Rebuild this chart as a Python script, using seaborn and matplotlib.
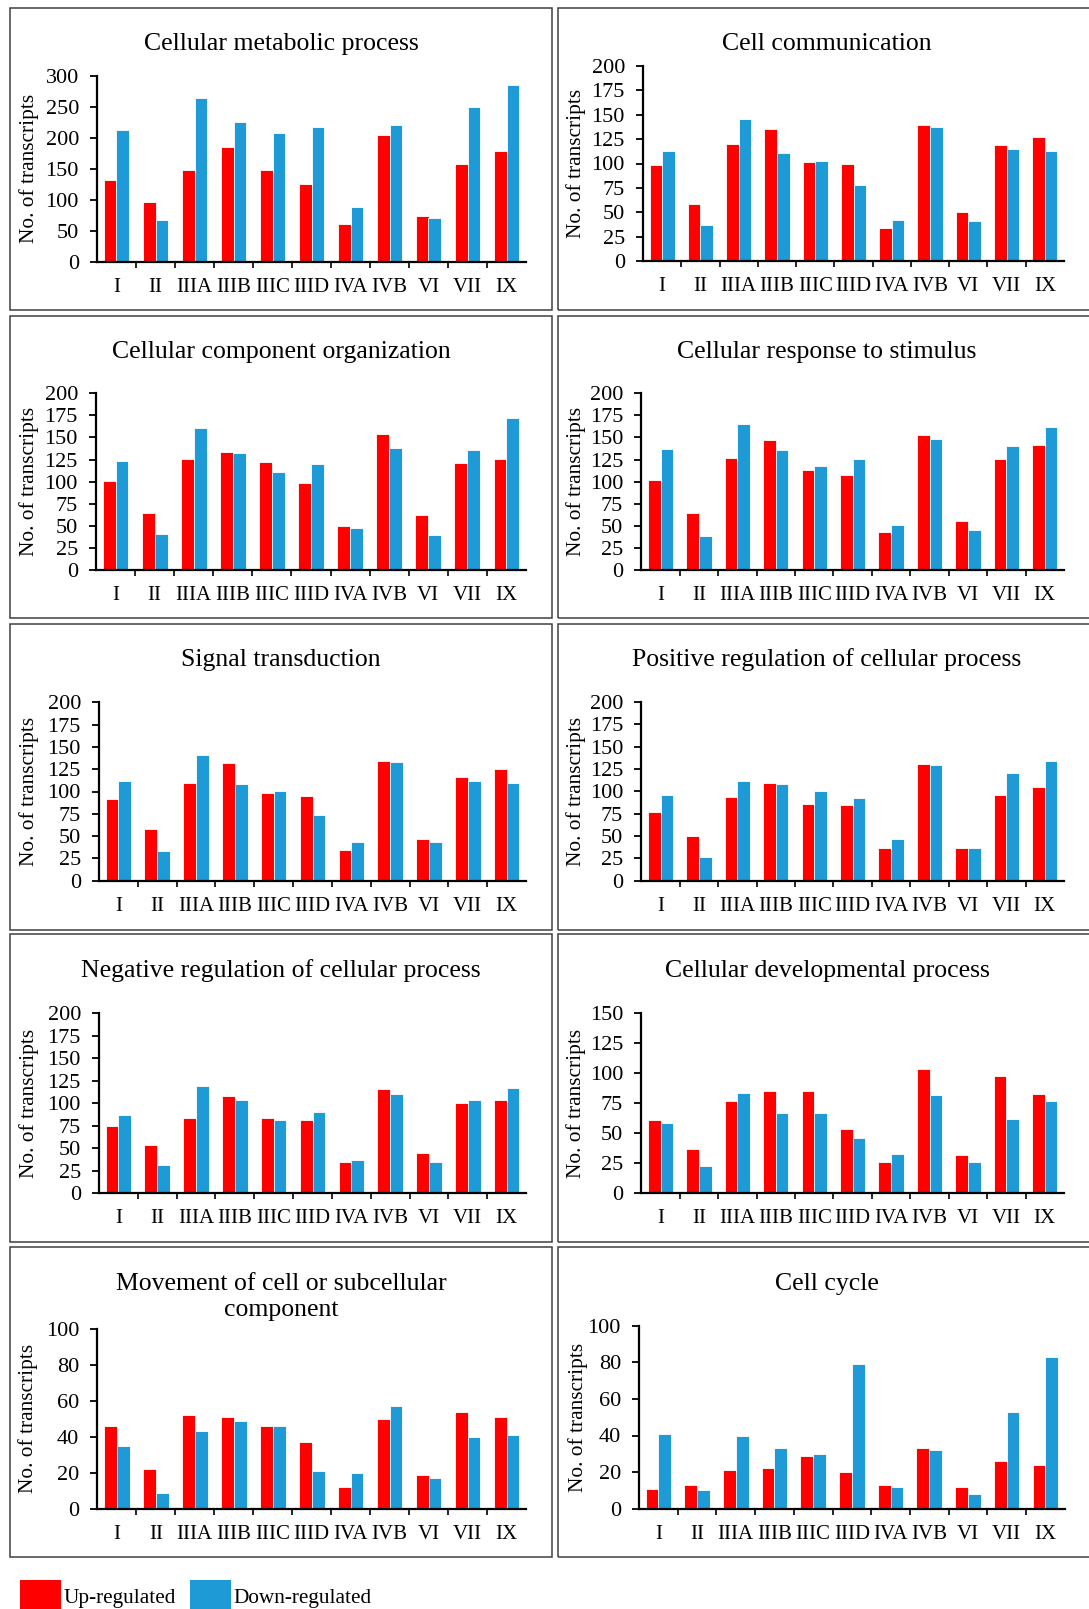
import matplotlib
matplotlib.use("Agg")
import matplotlib.pyplot as plt
from matplotlib.patches import Rectangle, Patch
from matplotlib.ticker import MultipleLocator, FixedLocator
import pandas as pd
import seaborn as sns

# Transcript-count data per gene family
groups = ["I", "II", "IIIA", "IIIB", "IIIC", "IIID", "IVA", "IVB", "VI", "VII", "IX"]

metabolic_up = [132, 96, 148, 185, 148, 126, 61, 205, 74, 158, 179]
metabolic_down = [213, 67, 264, 226, 208, 217, 89, 221, 71, 250, 285]

communication_up = [98, 59, 120, 135, 102, 100, 34, 139, 50, 119, 127]
communication_down = [113, 37, 146, 111, 103, 78, 42, 137, 41, 115, 113]

component_up = [101, 64, 126, 134, 122, 99, 50, 154, 62, 121, 126]
component_down = [123, 41, 161, 132, 111, 120, 48, 138, 40, 136, 172]

stimulus_up = [102, 64, 127, 147, 113, 107, 43, 153, 55, 126, 142]
stimulus_down = [137, 39, 165, 136, 118, 126, 51, 148, 45, 140, 162]

signal_up = [92, 58, 110, 132, 98, 95, 34, 134, 47, 116, 125]
signal_down = [112, 33, 141, 108, 101, 74, 43, 133, 43, 112, 110]

positive_up = [77, 50, 94, 109, 86, 85, 37, 131, 37, 96, 105]
positive_down = [96, 26, 112, 108, 100, 93, 47, 130, 37, 120, 134]

negative_up = [75, 54, 84, 108, 84, 81, 35, 116, 45, 100, 104]
negative_down = [87, 31, 119, 104, 81, 90, 37, 110, 35, 104, 117]

developmental_up = [61, 37, 77, 85, 85, 54, 26, 104, 32, 98, 83]
developmental_down = [59, 23, 84, 67, 67, 46, 33, 82, 26, 62, 77]

movement_up = [46, 22, 52, 51, 46, 37, 12, 50, 19, 54, 51]
movement_down = [35, 9, 43, 49, 46, 21, 20, 57, 17, 40, 41]

cycle_up = [11, 13, 21, 22, 29, 20, 13, 33, 12, 26, 24]
cycle_down = [41, 10, 40, 33, 30, 79, 12, 32, 8, 53, 83]

series_names = ["Up-regulated", "Down-regulated"]
colors = {"Up-regulated": "#FF0000", "Down-regulated": "#1E9AD6"}

sns.set_style("ticks")
plt.rcParams["font.family"] = ["Liberation Serif", "DejaVu Serif"]
plt.rcParams["text.color"] = "black"

W, H = 1089, 1609
fig = plt.figure(figsize=(W / 100, H / 100), dpi=100)


def fx(px):
    return px / W


def fy(py):
    return 1 - py / H


# (title, up, down, ymax, ystep, box(x0,y0,x1,y1), axes(left,top,right,bottom), title_y, ylabel_x)
panels = [
    ("Cellular metabolic process", metabolic_up, metabolic_down, 300, 50,
     (10, 8, 552, 310), (97, 75.7, 526, 261.7), 44, 29),
    ("Cell communication", communication_up, communication_down, 200, 25,
     (558, 8, 1096, 310), (643, 65.7, 1064, 261.3), 44, 576),
    ("Cellular component organization", component_up, component_down, 200, 25,
     (10, 316, 552, 618), (96, 393.3, 526, 570), 352, 29),
    ("Cellular response to stimulus", stimulus_up, stimulus_down, 200, 25,
     (558, 316, 1096, 618), (641.3, 393.3, 1064, 570), 352, 576),
    ("Signal transduction", signal_up, signal_down, 200, 25,
     (10, 624, 552, 930), (99, 702.3, 526, 880.7), 660, 29),
    ("Positive regulation of cellular process", positive_up, positive_down, 200, 25,
     (558, 624, 1096, 930), (641.3, 702, 1064, 880.7), 660, 576),
    ("Negative regulation of cellular process", negative_up, negative_down, 200, 25,
     (10, 934, 552, 1242), (99, 1013.3, 526, 1193.3), 971, 29),
    ("Cellular developmental process", developmental_up, developmental_down, 150, 25,
     (558, 934, 1096, 1242), (641.3, 1013.3, 1064, 1193.3), 971, 576),
    ("Movement of cell or subcellular\ncomponent", movement_up, movement_down, 100, 20,
     (10, 1247, 552, 1557), (97.3, 1329, 526, 1508.7), 1297, 28),
    ("Cell cycle", cycle_up, cycle_down, 100, 20,
     (558, 1247, 1096, 1557), (639, 1325.7, 1064.7, 1508.7), 1284, 578),
]

for title, up, down, ymax, ystep, box, axpx, title_y, ylab_x in panels:
    x0, y0, x1, y1 = box
    fig.add_artist(Rectangle((fx(x0), fy(y1)), (x1 - x0) / W, (y1 - y0) / H,
                             transform=fig.transFigure, fill=False,
                             edgecolor="#404040", linewidth=1.1))
    fig.text(fx((x0 + x1) / 2), fy(title_y), title, ha="center", va="center",
             fontsize=18.5, linespacing=1.25)

    left, top, right, bottom = axpx
    ax = fig.add_axes([fx(left), fy(bottom), (right - left) / W, (bottom - top) / H])

    df = pd.DataFrame({
        "group": groups * 2,
        "count": list(up) + list(down),
        "regulation": [series_names[0]] * len(groups) + [series_names[1]] * len(groups),
    })
    sns.barplot(data=df, x="group", y="count", hue="regulation",
                hue_order=series_names, palette=colors, order=groups,
                width=0.66, saturation=1, edgecolor="white", linewidth=0.6,
                legend=False, ax=ax)

    ax.set_xlim(-0.5, len(groups) - 0.5)
    ax.set_ylim(0, ymax)
    ax.yaxis.set_major_locator(MultipleLocator(ystep))
    ax.set_xlabel("")
    ax.set_ylabel("")
    ax.set_facecolor("none")
    sns.despine(ax=ax)
    for side in ("left", "bottom"):
        ax.spines[side].set_color("black")
        ax.spines[side].set_linewidth(1.6)

    ax.tick_params(axis="y", which="major", direction="out", length=5, width=1.3,
                   color="black", labelsize=16, pad=8, labelcolor="black")
    ax.tick_params(axis="x", which="major", length=0, labelsize=15, pad=11.5,
                   labelcolor="black")
    ax.xaxis.set_minor_locator(FixedLocator([i + 0.5 for i in range(len(groups) - 1)]))
    ax.tick_params(axis="x", which="minor", direction="out", length=4, width=1.2,
                   color="black")

    fig.text(fx(ylab_x), fy((top + bottom) / 2), "No. of transcripts", rotation=90,
             ha="center", va="center", fontsize=15.4)

handles = [Patch(facecolor=colors[n], edgecolor="none", label=n) for n in series_names]
fig.legend(handles=handles, loc="upper left", bbox_to_anchor=(fx(20), fy(1580)),
           ncol=2, frameon=False, fontsize=15.3, handlelength=1.93, handleheight=1.9,
           handletextpad=0.1, columnspacing=0.7, borderpad=0, borderaxespad=0)

fig.savefig("out.png", dpi=100)
